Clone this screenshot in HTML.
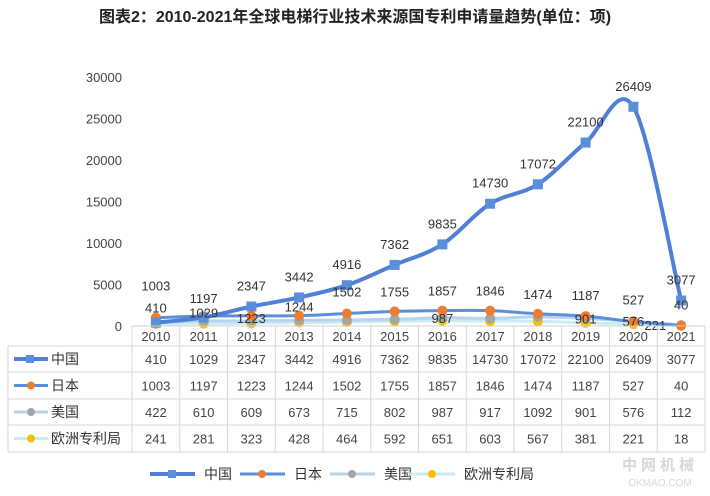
<!DOCTYPE html>
<html><head><meta charset="utf-8">
<style>
body{margin:0;background:#fff;}
svg{display:block;font-family:"Liberation Sans","Noto Sans CJK SC",sans-serif;}
</style></head><body>
<svg id="c" width="710" height="496" viewBox="0 0 710 496" xmlns="http://www.w3.org/2000/svg">
<text x="355" y="22" text-anchor="middle" font-size="16" font-weight="bold" fill="#222">图表2：2010-2021年全球电梯行业技术来源国专利申请量趋势(单位：项)</text>
<g id="grid"></g><g id="axis"></g><g id="series"></g><g id="table"></g><g id="legend"></g>
<text x="660" y="470" text-anchor="middle" font-size="15" font-weight="bold" fill="#d8d8d8" letter-spacing="4">中网机械</text>
<text x="660" y="486" text-anchor="middle" font-size="10" fill="#d8d8d8">OKMAO.COM</text>
</svg>
<script>
const years=["2010","2011","2012","2013","2014","2015","2016","2017","2018","2019","2020","2021"];
const china=[410,1029,2347,3442,4916,7362,9835,14730,17072,22100,26409,3077];
const japan=[1003,1197,1223,1244,1502,1755,1857,1846,1474,1187,527,40];
const usa=[422,610,609,673,715,802,987,917,1092,901,576,112];
const epo=[241,281,323,428,464,592,651,603,567,381,221,18];
const yTicks=[0,5000,10000,15000,20000,25000,30000];
const seriesNames=["中国","日本","美国","欧洲专利局"];

const NS="http://www.w3.org/2000/svg";
const X0=132,X1=705,Y0=326,Y1=77,YMAX=30000;
const cw=(X1-X0)/years.length;
const xs=i=>X0+cw*(i+0.5);
const ys=v=>Y0-(v/YMAX)*(Y0-Y1);
function mk(tag,attrs,parent,txt){const e=document.createElementNS(NS,tag);for(const k in attrs)e.setAttribute(k,attrs[k]);if(txt!==undefined)e.textContent=txt;parent.appendChild(e);return e;}
const g=id=>document.getElementById(id);

yTicks.forEach(t=>{
  const e=mk("text",{x:122,y:ys(t)+5,"text-anchor":"end","font-size":13,fill:"#444"},g("axis"),t);
  
  
});

function smooth(pts){
  let d=`M${pts[0][0]},${pts[0][1]}`;
  for(let i=0;i<pts.length-1;i++){
    const p0=pts[i-1]||pts[i],p1=pts[i],p2=pts[i+1],p3=pts[i+2]||p2;
    const c1=[p1[0]+(p2[0]-p0[0])/6,p1[1]+(p2[1]-p0[1])/6];
    const c2=[p2[0]-(p3[0]-p1[0])/6,p2[1]-(p3[1]-p1[1])/6];
    d+=` C${c1[0]},${c1[1]} ${c2[0]},${c2[1]} ${p2[0]},${p2[1]}`;
  }
  return d;
}
const cfg=[
  {data:epo,line:"#c9ecf5",mark:"#f5c000",shape:"circle",name:"epo",w:3},
  {data:usa,line:"#b7d3ef",mark:"#a5a5a5",shape:"circle",name:"usa",w:3},
  {data:japan,line:"#5b8fd9",mark:"#ed7d31",shape:"circle",name:"japan",w:3},
  {data:china,line:"#4f7fd6",mark:"#5b8fd9",shape:"rect",name:"china",w:4}
];
cfg.forEach(c=>{
  const pts=c.data.map((v,i)=>[xs(i),ys(v)]);
  const p=mk("path",{d:smooth(pts),fill:"none",stroke:c.line,"stroke-width":c.w},g("series"));
  
  
  c.data.forEach((v,i)=>{
    let m;
    if(c.shape==="rect") m=mk("rect",{x:xs(i)-5,y:ys(v)-5,width:10,height:10,fill:c.mark},g("series"));
    else m=mk("circle",{cx:xs(i),cy:ys(v),r:5,fill:c.mark},g("series"));
    
    
  });
});
// labels
const cOff=[-10,0,-16,-16,-16,-16,-16,-16,-16,-16,-16,-16];
china.forEach((v,i)=>{
  const l=mk("text",{x:xs(i),y:ys(v)+cOff[i],"text-anchor":"middle","font-size":13,fill:"#333"},g("series"),v);
  
  
});
const jOff=[-27,-13,7,-4,-17,-15,-15,-15,-15,-16,-17,-16];
japan.forEach((v,i)=>{
  const l=mk("text",{x:xs(i),y:ys(v)+jOff[i],"text-anchor":"middle","font-size":13,fill:"#333"},g("series"),v);
  
  
});
[6,9,10].forEach(i=>{
  const l=mk("text",{x:xs(i),y:ys(usa[i])+5,"text-anchor":"middle","font-size":13,fill:"#333"},g("series"),usa[i]);
  
  
});
{const l=mk("text",{x:xs(10)+22,y:ys(epo[10])+6,"text-anchor":"middle","font-size":13,fill:"#333"},g("series"),epo[10]);

}

// table
const T=g("table");
const rowY=[326,346,372,399,425,452];
mk("line",{x1:X0,y1:326,x2:X1,y2:326,stroke:"#d0d0d0"},T);
for(let r=1;r<rowY.length;r++) mk("line",{x1:8,y1:rowY[r],x2:X1,y2:rowY[r],stroke:"#d6d6d6"},T);
for(let i=0;i<=years.length;i++) mk("line",{x1:X0+cw*i,y1:326,x2:X0+cw*i,y2:452,stroke:"#d6d6d6"},T);
mk("line",{x1:8,y1:346,x2:8,y2:452,stroke:"#d6d6d6"},T);
years.forEach((y,i)=>{
  const e=mk("text",{x:xs(i),y:341,"text-anchor":"middle","font-size":13,fill:"#444"},T,y);
  
  
});
const rows=[china,japan,usa,epo];
const cfgOrder=[cfg[3],cfg[2],cfg[1],cfg[0]];
rows.forEach((arr,r)=>{
  const cy=(rowY[r+1]+rowY[r+2])/2;
  const c=cfgOrder[r];
  mk("line",{x1:14,y1:cy,x2:48,y2:cy,stroke:c.line,"stroke-width":c.w},T);
  if(c.shape==="rect") mk("rect",{x:26,y:cy-4,width:8,height:8,fill:c.mark},T);
  else mk("circle",{cx:31,cy:cy,r:4,fill:c.mark},T);
  const n=mk("text",{x:51,y:cy+5,"font-size":14,fill:"#333"},T,seriesNames[r]);
  
  
  arr.forEach((v,i)=>{
    const e=mk("text",{x:xs(i),y:cy+5,"text-anchor":"middle","font-size":13,fill:"#444"},T,v);
    
    
  });
});
// legend
const L=g("legend");
const lx=[150,240,330,410];
cfgOrder.forEach((c,i)=>{
  const x=lx[i],cy=474;
  const grp=mk("g",{},L);
  
  
  mk("line",{x1:x,y1:cy,x2:x+45,y2:cy,stroke:c.line,"stroke-width":c.w},grp);
  if(c.shape==="rect") mk("rect",{x:x+18,y:cy-4,width:8,height:8,fill:c.mark},grp);
  else mk("circle",{cx:x+22,cy:cy,r:4,fill:c.mark},grp);
  mk("text",{x:x+54,y:cy+5,"font-size":14,fill:"#333"},grp,seriesNames[i]);
});
</script>
</body></html>
